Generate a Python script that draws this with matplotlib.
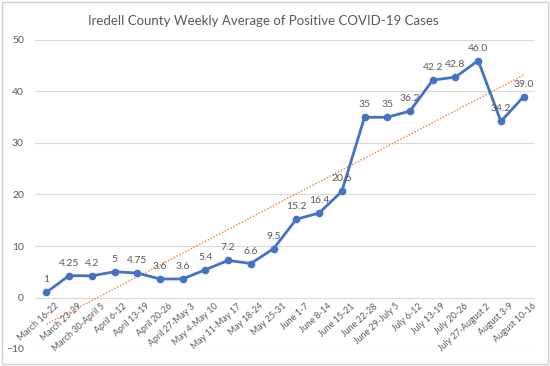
import numpy as np
import matplotlib
matplotlib.use('Agg')
import matplotlib.pyplot as plt
from matplotlib.patches import Rectangle

plt.rcParams['font.family'] = ['Lato', 'DejaVu Sans']

weeks = ['March 16-22', 'March 23-29', 'March 30-April 5', 'April 6-12', 'April 13-19',
         'April 20-26', 'April 27-May 3', 'May 4-May 10', 'May 11-May 17', 'May 18-24',
         'May 25-31', 'June 1-7', 'June 8-14', 'June 15-21', 'June 22-28',
         'June 29-July 5', 'July 6-12', 'July 13-19', 'July 20-26', 'July 27-August 2',
         'August 3-9', 'August 10-16']
cases = [1, 4.25, 4.2, 5, 4.75, 3.6, 3.6, 5.4, 7.2, 6.6, 9.5, 15.2, 16.4, 20.6,
         35, 35, 36.2, 42.2, 42.8, 46.0, 34.2, 39.0]
labels = ['1', '4.25', '4.2', '5', '4.75', '3.6', '3.6', '5.4', '7.2', '6.6', '9.5',
          '15.2', '16.4', '20.6', '35', '35', '36.2', '42.2', '42.8', '46.0', '34.2', '39.0']
yticks = [-10, 0, 10, 20, 30, 40, 50]

txt = '#595959'
blue = '#4472C4'
orange = '#ED7D31'

fig = plt.figure(figsize=(5.5, 3.66), dpi=100)
ax = fig.add_axes([35/550, 17/366, 500/550, 309/366])

x = np.arange(1, len(cases) + 1)

for yv in yticks:
    ax.axhline(yv, color='#D9D9D9', lw=0.8, zorder=0)

# linear trendline (Excel style)
k, b = np.polyfit(x, cases, 1)
ax.plot(x, k * x + b, color=orange, lw=1.0, ls=(0, (1, 1.3)), zorder=1)

ax.plot(x, cases, color=blue, lw=2.0, marker='o', ms=4.5, zorder=2)

for xi, yi, lab in zip(x, cases, labels):
    ax.annotate(lab, (xi, yi), xytext=(0, 9), textcoords='offset points',
                ha='center', va='center', fontsize=7.5, color=txt)

for xi, w in zip(x, weeks):
    ax.annotate(w, (xi, 0), xytext=(6, -3), textcoords='offset points',
                ha='right', va='top', rotation=42, rotation_mode='anchor',
                fontsize=6.4, color=txt)

ax.set_xlim(0.5, 22.5)
ax.set_ylim(-10, 50)
ax.set_yticks(yticks)
ax.set_xticks([])
ax.tick_params(axis='y', length=0, labelsize=7.5, labelcolor=txt, pad=8)
for s in ax.spines.values():
    s.set_visible(False)

fig.text(0.478, 0.942, 'Iredell County Weekly Average of Positive COVID-19 Cases',
         ha='center', va='center', fontsize=9.5, color=txt)

fig.patches.append(Rectangle((0.004, 0.005), 0.992, 0.99, transform=fig.transFigure,
                             fill=False, edgecolor='#D0D0D0', lw=1))

fig.savefig('out.png', dpi=100)
